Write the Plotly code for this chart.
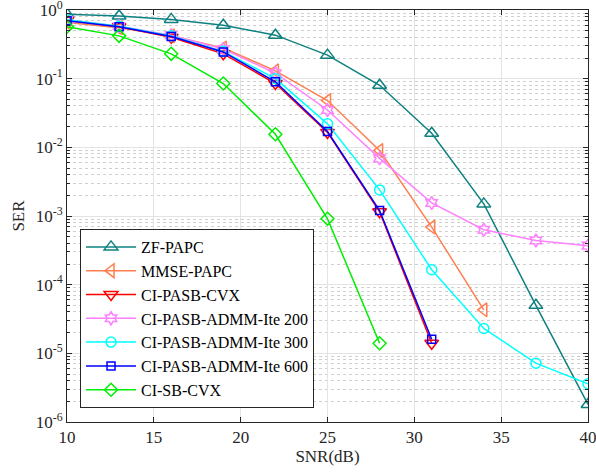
import plotly.graph_objects as go

snr = [10, 13, 16, 19, 22, 25, 28, 31, 34, 37, 40]

zf_papc = [0.87, 0.82, 0.73, 0.60, 0.43, 0.22, 0.08, 0.016, 0.0015, 5e-5, 1.8e-6]
mmse_papc = [0.66, 0.55, 0.42, 0.28, 0.13, 0.048, 0.009, 6.9e-4, 4.3e-5]
ci_pasb_cvx = [0.71, 0.57, 0.40, 0.23, 0.085, 0.0165, 0.00115, 1.4e-5]
admm_200 = [0.72, 0.58, 0.43, 0.27, 0.12, 0.035, 0.0069, 0.00155, 6.3e-4, 4.4e-4, 3.7e-4]
admm_300 = [0.72, 0.58, 0.42, 0.25, 0.10, 0.022, 0.0024, 1.65e-4, 2.3e-5, 7.2e-6, 3.6e-6]
admm_600 = [0.70, 0.57, 0.41, 0.245, 0.09, 0.017, 0.0012, 1.6e-5]
ci_sb_cvx = [0.57, 0.42, 0.23, 0.085, 0.0155, 9.1e-4, 1.4e-5]

series = [
    ("ZF-PAPC", zf_papc, "#0f8080", "triangle-up-open", 12),
    ("MMSE-PAPC", mmse_papc, "#ff7f50", "triangle-left-open", 12),
    ("CI-PASB-CVX", ci_pasb_cvx, "#ff0000", "triangle-down-open", 12),
    ("CI-PASB-ADMM-Ite 200", admm_200, "#ff80ff", "hexagram-open", 10),
    ("CI-PASB-ADMM-Ite 300", admm_300, "#00ffff", "circle-open", 10),
    ("CI-PASB-ADMM-Ite 600", admm_600, "#0000ff", "square-open", 8),
    ("CI-SB-CVX", ci_sb_cvx, "#00ee00", "diamond-open", 10),
]

xticks = [10, 15, 20, 25, 30, 35, 40]
yexps = [0, -1, -2, -3, -4, -5, -6]

FONT = "Liberation Serif"

fig = go.Figure()
for name, vals, color, sym, ms in series:
    fig.add_trace(go.Scatter(
        x=snr[:len(vals)], y=vals, name=name, mode="lines+markers",
        line=dict(color=color, width=1.5),
        marker=dict(symbol=sym, size=ms, color=color, line=dict(width=1.5, color=color)),
    ))

minor_vals = [m * 10.0 ** e for e in range(-6, 0) for m in range(2, 10)]

fig.update_layout(
    width=596, height=473,
    margin=dict(l=67, r=8, t=10, b=51),
    paper_bgcolor="white", plot_bgcolor="white",
    font=dict(family=FONT, size=17, color="#262626"),
    legend=dict(x=0.025, y=0.034, xanchor="left", yanchor="bottom",
                bgcolor="white", bordercolor="#262626", borderwidth=1,
                font=dict(family=FONT, size=16, color="#000000"), tracegroupgap=0,
                itemwidth=50),
    showlegend=True,
)
fig.update_xaxes(
    range=[10, 40], tickvals=xticks, ticktext=[str(v) for v in xticks],
    ticks="inside", ticklen=5, tickcolor="#262626", ticklabeloverflow="allow",
    showline=True, linecolor="#262626", linewidth=1, mirror="ticks",
    showgrid=True, gridcolor="#e3e3e3", gridwidth=1, zeroline=False,
    automargin=False,
    title=dict(text="SNR(dB)", font=dict(family=FONT, size=17), standoff=2),
)
fig.update_yaxes(
    type="log", range=[-6, 0],
    tickvals=[10.0 ** e for e in yexps],
    ticktext=["10<sup>%d</sup>" % e for e in yexps],
    ticks="inside", ticklen=5, tickcolor="#262626", ticklabeloverflow="allow",
    showline=True, linecolor="#262626", linewidth=1, mirror="ticks",
    showgrid=True, gridcolor="#e3e3e3", gridwidth=1, zeroline=False,
    automargin=False,
    minor=dict(tickvals=minor_vals, ticks="inside", ticklen=3, tickcolor="#262626",
               showgrid=True, gridcolor="#cfcfcf", griddash="dot", gridwidth=1),
    title=dict(text="SER", font=dict(family=FONT, size=17), standoff=6),
)

fig.write_html("out.html", config={"displayModeBar": False},
               post_script="document.body.style.margin='0';")
